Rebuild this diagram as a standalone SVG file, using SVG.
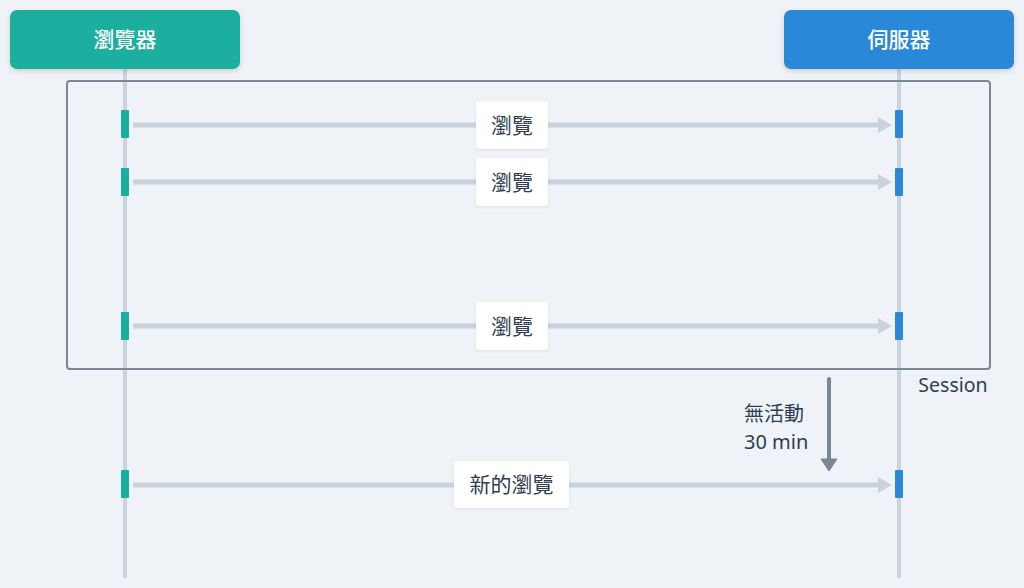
<svg xmlns="http://www.w3.org/2000/svg" width="1024" height="588" viewBox="0 0 1024 588">
<style>
text{font-family:"Noto Sans","Noto Sans CJK TC",sans-serif;font-weight:500;}
.life{stroke:#c8d3dd;stroke-width:4;}
.msg{stroke:#c8d3dd;stroke-width:5;fill:none;}
.lbl{fill:#ffffff;}
.lt{font-size:21px;fill:#2d3e50;text-anchor:middle;font-weight:400;}
.hd{font-size:21px;fill:#ffffff;text-anchor:middle;}
.tx{font-size:20px;fill:#2d3e50;font-weight:400;}
.ba{fill:#1aae9f;}
.bb{fill:#2b88d8;}
.ah{fill:#c8d3dd;}
</style>
<defs>
<filter id="sh" x="-10%" y="-20%" width="120%" height="150%">
<feDropShadow dx="0" dy="2" stdDeviation="2.5" flood-color="#000" flood-opacity="0.15"/>
</filter>
<filter id="sh2" x="-10%" y="-20%" width="120%" height="150%">
<feDropShadow dx="0" dy="1" stdDeviation="1.5" flood-color="#000" flood-opacity="0.08"/>
</filter>
</defs>
<rect width="1024" height="588" fill="#eff3f7"/>
<g id="lifelines">
<line class="life" x1="125" y1="69" x2="125" y2="578"/>
<line class="life" x1="899" y1="69" x2="899" y2="578"/>
</g>
<g id="session">
<rect x="67" y="81" width="923" height="288" rx="3" fill="none" stroke="#7a8794" stroke-width="2"/>
<text class="tx" x="953" y="392" text-anchor="middle" style="font-size:19.5px;">Session</text>
</g>
<g id="browser">
<rect x="10" y="10" width="230" height="59" rx="7" fill="#1aae9f" filter="url(#sh)"/>
<text class="hd" x="125" y="47">瀏覽器</text>
</g>
<g id="server">
<rect x="784" y="10" width="230" height="59" rx="7" fill="#2b88d8" filter="url(#sh)"/>
<text class="hd" x="899" y="47">伺服器</text>
</g>
<g id="connectors">
<line class="msg" x1="133" y1="125" x2="880" y2="125"/>
<polygon class="ah" points="878,117 892,125 878,133"/>
<line class="msg" x1="133" y1="182" x2="880" y2="182"/>
<polygon class="ah" points="878,174 892,182 878,190"/>
<line class="msg" x1="133" y1="326" x2="880" y2="326"/>
<polygon class="ah" points="878,318 892,326 878,334"/>
<line class="msg" x1="133" y1="485" x2="880" y2="485"/>
<polygon class="ah" points="878,477 892,485 878,493"/>
<line x1="829" y1="379" x2="829" y2="460" stroke="#7a8794" stroke-width="4" stroke-linecap="round"/>
<polygon points="821,459 837,459 829,471" fill="#7a8794" stroke="#7a8794" stroke-width="1" stroke-linejoin="round"/>
</g>
<g id="activations">
<rect class="ba" x="121" y="110" width="8" height="28" rx="1"/>
<rect class="bb" x="895" y="110" width="8" height="28" rx="1"/>
<rect class="ba" x="121" y="168" width="8" height="28" rx="1"/>
<rect class="bb" x="895" y="168" width="8" height="28" rx="1"/>
<rect class="ba" x="121" y="312" width="8" height="28" rx="1"/>
<rect class="bb" x="895" y="312" width="8" height="28" rx="1"/>
<rect class="ba" x="121" y="470" width="8" height="28" rx="1"/>
<rect class="bb" x="895" y="470" width="8" height="28" rx="1"/>
</g>
<g id="label1">
<rect class="lbl" x="476" y="101" width="72" height="48" rx="4" filter="url(#sh2)"/>
<text class="lt" x="512" y="133">瀏覽</text>
</g>
<g id="label2">
<rect class="lbl" x="476" y="158" width="72" height="48" rx="4" filter="url(#sh2)"/>
<text class="lt" x="512" y="190">瀏覽</text>
</g>
<g id="label3">
<rect class="lbl" x="476" y="302" width="72" height="48" rx="4" filter="url(#sh2)"/>
<text class="lt" x="512" y="334">瀏覽</text>
</g>
<g id="label4">
<rect class="lbl" x="454" y="461" width="115" height="47" rx="4" filter="url(#sh2)"/>
<text class="lt" x="511.5" y="492">新的瀏覽</text>
</g>
<g id="inactivity">
<text class="tx" x="744" y="421">無活動</text>
<text class="tx" x="744" y="449">30 min</text>
</g>
</svg>
